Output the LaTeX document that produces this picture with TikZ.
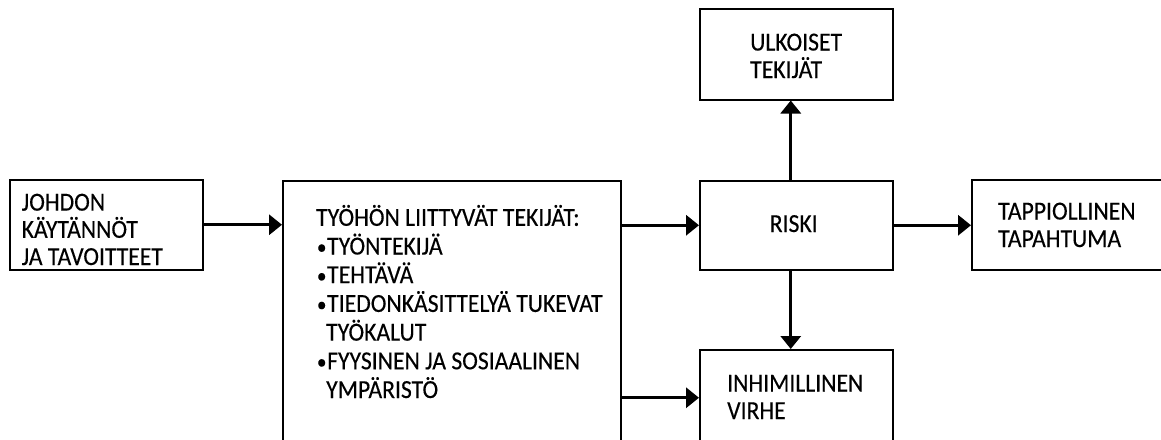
\documentclass[tikz,border=0pt]{standalone}
\usepackage{fontspec}
\setmainfont{Carlito}[FakeStretch=0.91, FakeBold=0.3]
\usetikzlibrary{arrows.meta}
\newcommand{\blt}{\makebox[11pt][c]{\raisebox{0.5pt}{\fontsize{21}{21}\selectfont •}}}
\begin{document}
\begin{tikzpicture}[x=1pt,y=-1pt,
  box/.style={draw, line width=1.5pt, rectangle, inner sep=0pt, anchor=north west, fill=white},
  % multi-line labels are placed by the baseline of their last line
  lbl/.style={anchor=base west, inner sep=0pt, align=left, font=\fontsize{26}{27.5}\selectfont},
  flow/.style={line width=3.4pt, -{Triangle[length=13pt,width=20pt]}}]
\useasboundingbox (0,0) rectangle (1161,439);
\clip (0,0) rectangle (1161,439);

% boxes
\node[box, minimum width=193pt, minimum height=90pt] (johdon) at (9,179) {};
\node[box, minimum width=338pt, minimum height=300pt] (tyohon) at (282,180) {};
\node[box, minimum width=193pt, minimum height=89pt] (riski) at (699,180) {};
\node[box, minimum width=193pt, minimum height=91pt] (ulkoiset) at (699,8) {};
\node[box, minimum width=200pt, minimum height=90pt] (tapp) at (971,179) {};
\node[box, minimum width=193pt, minimum height=96pt] (inhim) at (699,349) {};

% labels
\node[lbl, font=\fontsize{26}{27.2}\selectfont] (tjohdon) at (21.5,265) {JOHDON\\KÄYTÄNNÖT\\JA TAVOITTEET};
\node[lbl, font=\fontsize{26}{28.7}\selectfont] (ttyohon) at (316,398)
  {TYÖHÖN LIITTYVÄT TEKIJÄT:\\
   \blt TYÖNTEKIJÄ\\
   \blt TEHTÄVÄ\\
   \blt TIEDONKÄSITTELYÄ TUKEVAT\\
   \hspace*{10pt}TYÖKALUT\\
   \blt FYYSINEN JA SOSIAALINEN\\
   \hspace*{10pt}YMPÄRISTÖ};
\node[anchor=base, inner sep=0pt, font=\fontsize{26}{27.5}\selectfont] (triski) at (793.7,232) {RISKI};
\node[lbl] (tulkoiset) at (750,78) {ULKOISET\\TEKIJÄT};
\node[lbl] (ttapp) at (998,247) {TAPPIOLLINEN\\TAPAHTUMA};
\node[lbl] (tinhim) at (727,419) {INHIMILLINEN\\VIRHE};

% connectors
\draw[flow] (johdon.east) -- (johdon.east -| tyohon.west);
\draw[flow] (riski.west -| tyohon.east) -- (riski.west);
\draw[flow] (inhim.west -| tyohon.east) -- (inhim.west);
\draw[flow] (riski.east) -- (riski.east -| tapp.west);
\draw[flow] ([xshift=-5.5pt]riski.north) -- ([xshift=-5.5pt]ulkoiset.south);
\draw[flow] ([xshift=-5.5pt]riski.south) -- ([xshift=-5.5pt]inhim.north);
\end{tikzpicture}
\end{document}
